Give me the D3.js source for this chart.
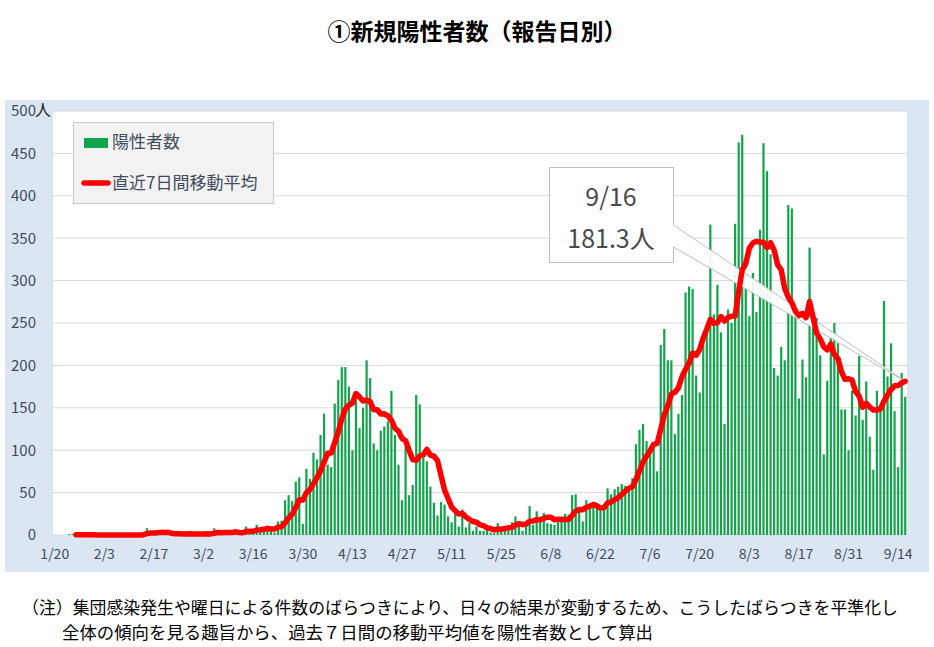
<!DOCTYPE html>
<html><head><meta charset="utf-8">
<script src="https://cdn.jsdelivr.net/npm/d3@7"></script>
<style>body{margin:0;background:#fff;} svg{display:block;}</style>
</head><body><svg id="c" width="934" height="647"></svg>
<script>
// ---- data (daily new positives, report date) ----
const casesJan = [0,0,0,0,1,1,0,0,0,0,1,0]; // 1/20-1/31
const casesFeb = [0,0,0,0,0,0,0,0,0,0,0,0,1,2,8,5,0,3,3,0,3,1,0,1,0,3,2,1,1];
const casesMar = [1,1,1,2,8,6,0,2,1,2,7,2,5,10,3,2,12,9,6,11,7,3,16,17,41,47,40,63,68,13,78];
const casesApr = [66,97,89,118,143,83,80,155,183,198,198,175,100,159,126,150,206,185,108,100,123,128,134,170,118,83,41,104,47,59];
const casesMay = [165,154,91,87,57,38,23,39,36,22,15,28,10,30,9,14,5,10,5,5,11,3,2,14,8,10,11,15,22,14,5];
const casesJun = [13,34,12,28,20,26,14,13,12,18,22,25,24,47,48,27,16,41,35,39,35,29,31,55,48,54,57,60,58,54];
const casesJul = [67,107,124,131,111,102,106,75,224,243,206,206,119,143,165,286,293,290,188,168,237,238,366,260,295,239,131,266,250,367,463];
const casesAug = [472,292,258,309,263,360,462,429,331,197,188,222,206,389,385,260,161,207,186,339,258,256,212,95,182,236,250,226,148,148,100];
const casesSep = [170,141,211,136,181,116,77,170,149,276,187,226,146,80,191,163]; // to 9/16

// 7-day moving average (as plotted)
const maJan = [null,null,null,null,null,null,0.3,0.3,0.3,0.3,0.4,0.3];
const maFeb = [0.1,0.1,0.1,0.1,0.1,0,0,0,0,0,0,0,0.1,0.4,1.6,2.3,2.3,2.7,3.1,3.0,3.1,2.1,1.4,1.6,1.1,1.1,1.4,1.1,1.1];
const maMar = [1.3,1.3,1.4,1.3,2.1,2.9,2.7,2.9,2.9,3.0,3.7,2.9,2.7,4.1,4.3,4.4,5.9,6.1,6.7,7.6,7.1,7.1,9.1,9.9,14.4,20.3,24.4,32.4,41.7,41.3,50.0];
const maApr = [53.6,60.7,67.7,75.6,86.3,96.3,96.6,109.3,121.6,137.1,148.6,153.1,155.6,166.9,162.7,158.0,159.1,157.3,147.7,147.7,142.6,142.9,140.6,135.4,125.9,122.3,113.9,111.1,99.6,88.9];
const maMay = [88.1,93.3,94.4,101.0,94.3,93.0,87.9,69.9,53.0,43.1,32.9,28.7,24.7,25.7,21.4,18.3,15.9,15.1,11.9,11.1,8.4,7.6,5.9,7.1,6.9,7.6,8.4,9.0,11.7,13.4,12.1];
const maJun = [12.9,16.3,16.4,18.3,18.0,19.7,21.0,21.0,17.9,18.7,17.9,18.6,18.3,23.0,28.0,30.1,29.9,32.6,34.0,36.1,34.4,31.7,32.3,37.9,38.9,41.6,44.1,47.7,51.9,55.1];
const maJul = [56.9,65.3,75.3,85.9,93.1,99.4,106.9,108.0,124.7,141.7,152.4,166.0,168.4,173.7,186.6,195.4,202.6,214.6,212.0,219.0,232.4,242.9,254.3,249.6,250.3,257.6,252.3,256.4,258.1,258.3,287.3];
const maAug = [312.6,320.1,338.3,344.4,346.3,345.3,345.1,339.0,344.6,335.9,318.6,312.7,290.7,280.3,274.0,263.9,258.7,261.4,256.3,275.3,256.6,238.1,231.3,221.9,218.3,225.4,212.7,208.1,192.7,183.6,184.3];
const maSep = [182.6,169.0,163.4,150.6,155.3,150.7,147.4,147.4,148.6,157.9,165.1,171.6,175.9,176.3,179.3,181.3];

const monthFirstDay = [20,1,1,1,1,1,1,1,1];
const xTickLabels = ["1/20","2/3","2/17","3/2","3/16","3/30","4/13","4/27","5/11","5/25","6/8","6/22","7/6","7/20","8/3","8/17","8/31","9/14"];
const yTicks = [0,50,100,150,200,250,300,350,400,450,500];
const title = "①新規陽性者数（報告日別）";
const legendLabels = ["陽性者数","直近7日間移動平均"];
const calloutLines = ["9/16","181.3人"];
const noteLines = ["（注）集団感染発生や曜日による件数のばらつきにより、日々の結果が変動するため、こうしたばらつきを平準化し",
                   "全体の傾向を見る趣旨から、過去７日間の移動平均値を陽性者数として算出"];

// ---- build table ----
const casesByMonth = [casesJan,casesFeb,casesMar,casesApr,casesMay,casesJun,casesJul,casesAug,casesSep];
const maByMonth = [maJan,maFeb,maMar,maApr,maMay,maJun,maJul,maAug,maSep];
const rows = [];
casesByMonth.forEach((arr, mi) => {
  arr.forEach((v, k) => {
    rows.push({cat: (mi+1) + "/" + (monthFirstDay[mi] + k), cases: v, ma: maByMonth[mi][k]});
  });
});

const FONT = '"Noto Sans CJK JP","Noto Sans",sans-serif';
const svg = d3.select("#c");
const L = 53, R = 907, T = 111, B = 535;

const x = d3.scaleBand().domain(rows.map(d => d.cat)).range([L, R]).paddingInner(0.38).paddingOuter(0.19);
const y = d3.scaleLinear().domain([0, 500]).range([B, T]);
const cx = c => x(c) + x.bandwidth() / 2;

// backgrounds
svg.append("rect").attr("x", 5).attr("y", 100).attr("width", 924).attr("height", 472).attr("fill", "#dce6f2");
svg.append("rect").attr("x", L).attr("y", T).attr("width", R - L).attr("height", B - T).attr("fill", "#ffffff");

// gridlines
svg.append("g").selectAll("line").data(yTicks).join("line")
  .attr("x1", L).attr("x2", R).attr("y1", d => y(d)).attr("y2", d => y(d))
  .attr("stroke", "#d9d9d9").attr("stroke-width", 1);

// y axis labels
const yAxis = svg.append("g").attr("transform", `translate(${L - 4},0)`)
  .call(d3.axisLeft(y).tickValues(yTicks).tickSize(0).tickPadding(13));
yAxis.select(".domain").remove();
yAxis.selectAll("text").attr("font-family", FONT).attr("font-size", 15).attr("fill", "#3e4c5e");
svg.append("text").attr("x", 35).attr("y", y(500) + 5).attr("font-family", FONT).attr("font-size", 16)
  .attr("fill", "#1a1a1a").text("人");

// x axis labels
const xAxis = svg.append("g").attr("transform", `translate(0,${B})`)
  .call(d3.axisBottom(x).tickValues(xTickLabels).tickSize(0).tickPadding(14));
xAxis.select(".domain").remove();
xAxis.selectAll("text").attr("font-family", FONT).attr("font-size", 14).attr("fill", "#3e4c5e");

// bars
svg.append("g").selectAll("rect").data(rows.filter(d => d.cases > 0)).join("rect")
  .attr("x", d => x(d.cat)).attr("width", x.bandwidth())
  .attr("y", d => y(d.cases)).attr("height", d => B - y(d.cases))
  .attr("fill", "#12a44c");

// callout box with pointer
const last = rows[rows.length - 1];
const tipX = cx(last.cat), tipY = y(last.ma);
svg.append("path")
  .attr("d", `M549.5,167.5 H673.5 V225 L${tipX},${tipY} L673.5,247 V262.5 H549.5 Z`)
  .attr("fill", "#ffffff").attr("fill-opacity", 0.92).attr("stroke", "#bfbfbf").attr("stroke-width", 1);
svg.append("text").attr("x", 611).attr("y", 206).attr("text-anchor", "middle")
  .attr("font-family", FONT).attr("font-size", 25).attr("fill", "#4a4a4a").text(calloutLines[0]);
svg.append("text").attr("x", 611).attr("y", 248).attr("text-anchor", "middle")
  .attr("font-family", FONT).attr("font-size", 25).attr("fill", "#4a4a4a").text(calloutLines[1]);

// moving-average line
const line = d3.line().defined(d => d.ma != null).x(d => cx(d.cat)).y(d => y(d.ma));
svg.append("path").datum(rows).attr("d", line)
  .attr("fill", "none").attr("stroke", "#ff0000").attr("stroke-width", 5.5)
  .attr("stroke-linejoin", "round").attr("stroke-linecap", "round");

// legend
const lg = svg.append("g");
lg.append("rect").attr("x", 73.5).attr("y", 122.5).attr("width", 200).attr("height", 81)
  .attr("fill", "#f2f2f2").attr("stroke", "#c9c9c9").attr("stroke-width", 1);
lg.append("rect").attr("x", 84).attr("y", 138).attr("width", 24).attr("height", 10).attr("fill", "#12a44c");
lg.append("text").attr("x", 112).attr("y", 148).attr("font-family", FONT).attr("font-size", 17)
  .attr("fill", "#3e4c5e").text(legendLabels[0]);
lg.append("line").attr("x1", 84).attr("x2", 108).attr("y1", 183).attr("y2", 183)
  .attr("stroke", "#ff0000").attr("stroke-width", 5.5).attr("stroke-linecap", "round");
lg.append("text").attr("x", 112).attr("y", 189).attr("font-family", FONT).attr("font-size", 17)
  .attr("fill", "#3e4c5e").text(legendLabels[1]);

// title
svg.append("text").attr("x", 477).attr("y", 40).attr("text-anchor", "middle")
  .attr("font-family", FONT).attr("font-size", 23).attr("font-weight", 700).attr("fill", "#000")
  .text(title);

// note
svg.append("text").attr("x", 22).attr("y", 614).attr("font-family", FONT).attr("font-size", 17)
  .attr("textLength", 876).attr("lengthAdjust", "spacingAndGlyphs").attr("fill", "#000").text(noteLines[0]);
svg.append("text").attr("x", 62).attr("y", 639).attr("font-family", FONT).attr("font-size", 17)
  .attr("textLength", 591).attr("lengthAdjust", "spacingAndGlyphs").attr("fill", "#000").text(noteLines[1]);
</script>
</body></html>
